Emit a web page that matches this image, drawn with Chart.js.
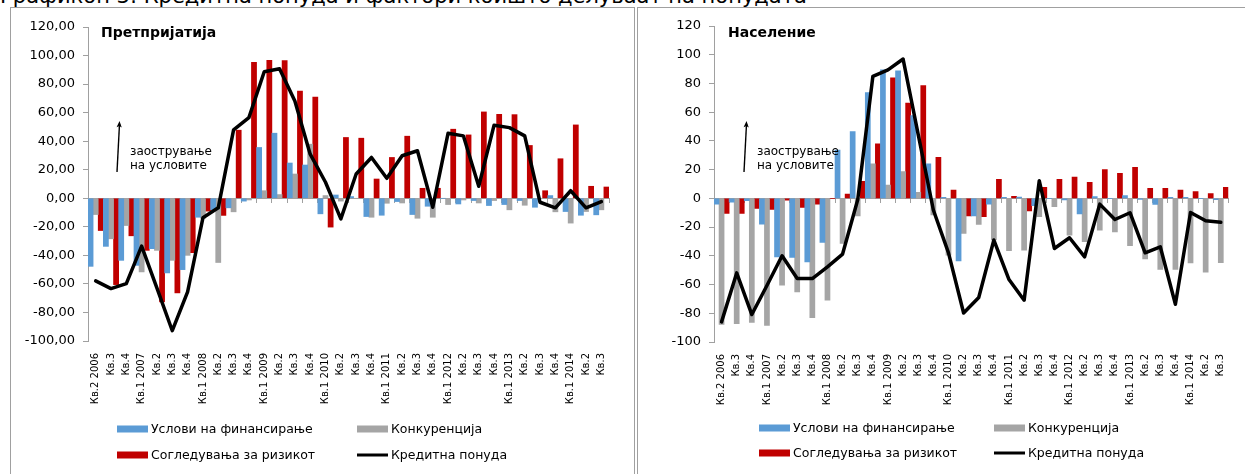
<!DOCTYPE html>
<html>
<head>
<meta charset="utf-8">
<script src="https://cdn.jsdelivr.net/npm/chart.js@4"></script>
<style>
  html, body { margin: 0; padding: 0; background: #fff; }
  body { width: 1245px; height: 474px; position: relative; overflow: hidden; font-family: 'DejaVu Sans', sans-serif; }
  #title { position: absolute; left: 0; top: -15px; font-size: 21px; line-height: 22px; white-space: nowrap; color: #000; }
  .panel { position: absolute; top: 7px; height: 480px; border-top: 1px solid #a0a0a0; }
  #p1 { left: 10px; width: 623px; border-left: 1px solid #a0a0a0; border-right: 1px solid #a0a0a0; }
  #p2 { left: 637px; width: 620px; border-left: 1px solid #a0a0a0; }
  canvas { position: absolute; left: 0; top: 0; }
</style>
</head>
<body>
<div id="title">Графикон 3: Кредитна понуда и фактори коишто делуваат на понудата</div>
<div class="panel" id="p1"><canvas id="c1" width="623" height="466"></canvas></div>
<div class="panel" id="p2"><canvas id="c2" width="607" height="466"></canvas></div>
<script>
// Quarters, Q2 2006 – Q3 2014
const quarters = [
  'Кв.2 2006', 'Кв.3', 'Кв.4',
  'Кв.1 2007', 'Кв.2', 'Кв.3', 'Кв.4',
  'Кв.1 2008', 'Кв.2', 'Кв.3', 'Кв.4',
  'Кв.1 2009', 'Кв.2', 'Кв.3', 'Кв.4',
  'Кв.1 2010', 'Кв.2', 'Кв.3', 'Кв.4',
  'Кв.1 2011', 'Кв.2', 'Кв.3', 'Кв.4',
  'Кв.1 2012', 'Кв.2', 'Кв.3', 'Кв.4',
  'Кв.1 2013', 'Кв.2', 'Кв.3', 'Кв.4',
  'Кв.1 2014', 'Кв.2', 'Кв.3'
];

const seriesNames = ['Услови на финансирање', 'Конкуренција', 'Согледувања за ризикот', 'Кредитна понуда'];

const yTicks = [-100, -80, -60, -40, -20, 0, 20, 40, 60, 80, 100, 120];

// Enterprises (net percentages)
const entFinancing = [-47.7, -33.7, -43.5, -47.0, -35.3, -52.3, -50.0, -13.3, -8.0, -6.7, -2.0, 35.6, 45.6, 24.7, 23.3, -10.9, 2.3, 1.2, -12.8, -11.9, -2.3, -11.4, -5.6, 0.0, -4.0, -1.6, -5.1, -4.4, -1.6, -6.3, 1.9, -9.3, -11.9, -11.6];
const entCompetition = [-11.4, -28.4, -19.1, -51.6, -36.5, -43.5, -40.0, -14.0, -45.0, -9.5, -1.2, 5.3, 2.6, 17.0, 37.9, 1.9, -2.0, 0.0, -13.3, -3.5, -3.3, -14.0, -13.3, -4.4, -1.2, -3.3, -1.6, -8.1, -4.9, 0.0, -9.5, -17.4, -9.3, -8.1];
const entRisk = [-22.6, -60.5, -26.3, -36.5, -72.6, -66.3, -38.1, -9.0, -12.0, 47.7, 95.3, 96.7, 96.5, 75.1, 70.9, -20.2, 42.6, 42.1, 13.5, 28.6, 43.5, 7.0, 7.0, 48.4, 44.4, 60.5, 58.8, 58.6, 37.0, 5.3, 27.7, 51.4, 8.4, 7.9];
const entSupply = [-57.9, -63.3, -59.8, -33.5, -63.0, -92.8, -65.6, -13.7, -6.7, 47.9, 56.5, 88.6, 90.7, 68.1, 30.9, 11.2, -14.4, 17.0, 28.6, 14.0, 29.8, 33.3, -6.3, 45.6, 43.7, 8.4, 51.2, 49.5, 43.7, -2.8, -6.7, 5.3, -6.7, -2.3];

// Households (net percentages)
const hhFinancing = [-4.0, -2.6, -1.6, -17.9, -40.7, -41.2, -44.2, -30.7, 33.7, 46.5, 73.7, 89.5, 88.8, 57.7, 24.0, 0.7, -43.5, -12.3, -4.0, 0.7, 0.9, -5.1, 0.0, -1.0, -10.9, 1.2, 0.0, 1.9, -0.7, -4.2, 0.7, 0.7, 0.0, -0.9];
const hhCompetition = [-87.7, -87.2, -86.3, -88.4, -60.5, -65.1, -83.0, -70.9, -31.4, -12.3, 24.0, 9.3, 18.6, 4.2, -11.6, -39.5, -24.4, -18.1, -29.0, -36.5, -36.0, -12.8, -5.8, -25.6, -30.2, -22.1, -23.3, -33.0, -42.1, -49.5, -49.5, -44.9, -51.4, -44.7];
const hhRisk = [-10.5, -10.5, -7.0, -7.7, -1.2, -6.3, -4.0, 0.0, 3.0, 11.9, 37.9, 84.0, 66.3, 78.6, 28.6, 5.8, -12.3, -12.8, 13.3, 1.4, -8.8, 7.7, 13.3, 14.9, 11.2, 20.0, 17.4, 21.6, 7.0, 7.0, 5.8, 4.7, 3.3, 7.7];
const hhSupply = [-86.0, -51.9, -80.9, -60.7, -40.0, -55.8, -55.8, -47.7, -38.8, -1.0, 84.9, 89.5, 97.0, 44.4, -8.1, -38.0, -79.8, -69.0, -29.0, -56.5, -70.9, 12.3, -34.9, -27.4, -40.7, -4.0, -14.7, -10.0, -37.9, -33.7, -73.7, -9.8, -15.6, -16.7];

const COLORS = { financing: '#5b9bd5', competition: '#a5a5a5', risk: '#c00000', supply: '#000000' };
const AXIS_GRAY = '#a0a0a0';
const FONT = 'DejaVu Sans';

// Panel heading, the "tightening" arrow note and a two-column legend
const panelDecor = {
  id: 'panelDecor',
  afterDraw(chart, args, o) {
    const ctx = chart.ctx;
    ctx.save();
    ctx.fillStyle = '#000';
    ctx.textAlign = 'left';
    ctx.textBaseline = 'middle';
    ctx.font = 'bold 14px "' + FONT + '"';
    ctx.fillText(o.heading, 90, 25);

    // arrow pointing up
    const x0 = 106, y0 = 164, x1 = 108.5, y1 = 113;
    ctx.strokeStyle = '#000';
    ctx.lineWidth = 1.4;
    ctx.beginPath();
    ctx.moveTo(x0, y0);
    ctx.lineTo(x1, y1 + 3);
    ctx.stroke();
    const ang = Math.atan2(y1 - y0, x1 - x0);
    ctx.beginPath();
    ctx.moveTo(x1, y1);
    ctx.lineTo(x1 - 7 * Math.cos(ang - 0.38), y1 - 7 * Math.sin(ang - 0.38));
    ctx.lineTo(x1 - 5 * Math.cos(ang), y1 - 5 * Math.sin(ang));
    ctx.lineTo(x1 - 7 * Math.cos(ang + 0.38), y1 - 7 * Math.sin(ang + 0.38));
    ctx.closePath();
    ctx.fill();
    ctx.font = '12px "' + FONT + '"';
    ctx.fillText('заострување', 119, 143.5);
    ctx.fillText('на условите', 119, 158);

    // legend: [dataset index, column, row]
    const ds = chart.data.datasets;
    const cells = [[1, 0, 0], [2, 1, 0], [3, 0, 1], [0, 1, 1]];
    ctx.font = '12.5px "' + FONT + '"';
    cells.forEach(([i, c, r]) => {
      const x = o.legendX[c], y = o.legendY[r];
      const d = ds[i];
      if (d.type === 'line') {
        ctx.strokeStyle = d.borderColor;
        ctx.lineWidth = 3;
        ctx.beginPath();
        ctx.moveTo(x, y);
        ctx.lineTo(x + 31, y);
        ctx.stroke();
      } else {
        ctx.fillStyle = d.backgroundColor;
        ctx.fillRect(x, y - 3.5, 31, 7);
      }
      ctx.fillStyle = '#000';
      ctx.fillText(d.label, x + 34, y + 0.5);
    });
    ctx.restore();
  }
};

function makePanel(canvasId, series, p) {
  const [fin, comp, risk, supply] = series;
  const bar = (label, data, color) => ({
    type: 'bar', label, data, backgroundColor: color, borderWidth: 0,
    xAxisID: 'x', yAxisID: 'y', order: 1,
    categoryPercentage: 1.0, barPercentage: 1.0
  });
  return new Chart(document.getElementById(canvasId), {
    data: {
      labels: quarters,
      datasets: [
        {
          type: 'line', label: seriesNames[3], data: supply,
          borderColor: COLORS.supply, backgroundColor: COLORS.supply,
          borderWidth: 3.5, pointRadius: 0, tension: 0,
          borderJoinStyle: 'round', borderCapStyle: 'round',
          xAxisID: 'x', yAxisID: 'y', order: 0
        },
        bar(seriesNames[0], fin, COLORS.financing),
        bar(seriesNames[1], comp, COLORS.competition),
        bar(seriesNames[2], risk, COLORS.risk)
      ]
    },
    options: {
      responsive: false,
      animation: false,
      devicePixelRatio: 1,
      layout: { padding: { left: 0, right: p.padRight, top: p.padTop, bottom: 0 } },
      plugins: {
        legend: { display: false },
        tooltip: { enabled: false },
        panelDecor: { heading: p.heading, legendX: p.legendX, legendY: p.legendY }
      },
      scales: {
        // category axis running along the zero line, with boundary tick marks
        x: {
          type: 'category',
          position: { y: 0 },
          offset: true,
          ticks: { display: false },
          grid: { offset: true, drawOnChartArea: false, drawTicks: true, tickLength: 4, color: AXIS_GRAY },
          border: { color: AXIS_GRAY, width: 1 }
        },
        // quarter labels under the plot
        x2: {
          type: 'category',
          axis: 'x',
          position: 'bottom',
          labels: quarters,
          offset: true,
          grid: { display: false, drawTicks: false },
          border: { display: false },
          ticks: {
            autoSkip: false, minRotation: 90, maxRotation: 90, padding: 12,
            color: '#000', font: { family: FONT, size: 10 }
          },
          afterFit: s => { s.height = p.xAxisHeight; }
        },
        y: {
          type: 'linear',
          min: yTicks[0],
          max: yTicks[yTicks.length - 1],
          afterBuildTicks: s => { s.ticks = yTicks.map(v => ({ value: v })); },
          ticks: {
            color: '#000', padding: 8,
            font: { family: FONT, size: 13 },
            callback: p.tickFormat
          },
          grid: { drawOnChartArea: false, drawTicks: true, tickLength: 5, color: AXIS_GRAY },
          border: { color: AXIS_GRAY, width: 1 },
          afterFit: s => { s.width = p.yAxisWidth; }
        }
      }
    },
    plugins: [panelDecor]
  });
}

makePanel('c1', [entFinancing, entCompetition, entRisk, entSupply], {
  heading: 'Претпријатија',
  padRight: 25, padTop: 19, yAxisWidth: 77, xAxisHeight: 133,
  tickFormat: v => v.toFixed(2).replace('.', ','),
  legendX: [106, 346], legendY: [421, 447]
});

makePanel('c2', [hhFinancing, hhCompetition, hhRisk, hhSupply], {
  heading: 'Население',
  padRight: 14, padTop: 18, yAxisWidth: 76, xAxisHeight: 132,
  tickFormat: v => String(v),
  legendX: [121, 356], legendY: [420, 445]
});
</script>
</body>
</html>
